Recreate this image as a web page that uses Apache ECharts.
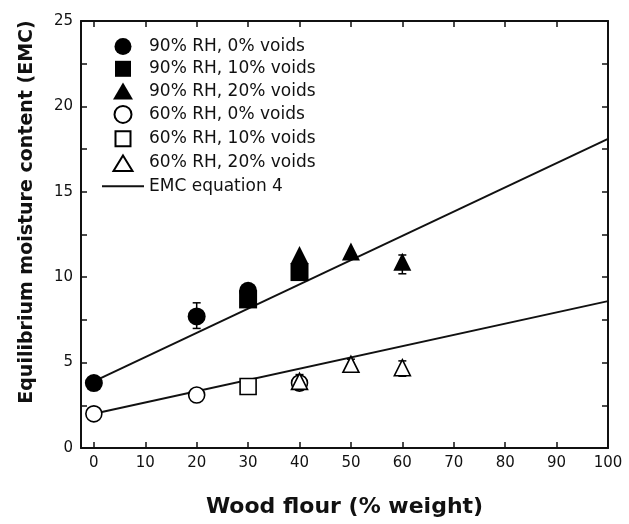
<!DOCTYPE html>
<html><head><meta charset="utf-8">
<script src="https://cdn.jsdelivr.net/npm/echarts@6/dist/echarts.min.js"></script>
<style>html,body{margin:0;padding:0;background:#fff}#c{width:629px;height:524px}</style>
</head><body><div id="c"></div>
<script>
// Data
var rh90v0 = [[0, 3.8], [20, 7.7], [30, 9.2]];
var rh90v10 = [[30, 8.7], [40, 10.3]];
var rh90v20 = [[40, 11.3], [50, 11.5], [60, 10.9]];
var rh60v0 = [[0, 2.0], [20, 3.1], [40, 3.8]];
var rh60v10 = [[30, 3.6]];
var rh60v20 = [[40, 3.9], [50, 4.9], [60, 4.7]];
var eqUpper = [[0, 3.9], [100, 18.1]];
var eqLower = [[0, 2.0], [100, 8.6]];
// error bars: [x, low, high]
var errBars = [[20, 7.0, 8.5], [30, 8.9, 9.5], [60, 10.2, 11.3], [40, 10.0, 10.6], [0, 1.7, 2.3], [20, 2.8, 3.4], [40, 3.4, 4.3], [50, 4.5, 5.2], [60, 4.2, 5.1]];
var xTicks = [0, 10, 20, 30, 40, 50, 60, 70, 80, 90, 100];
var names = ['90% RH, 0% voids', '90% RH, 10% voids', '90% RH, 20% voids', '60% RH, 0% voids', '60% RH, 10% voids', '60% RH, 20% voids', 'EMC equation 4'];
var yTitle = 'Equilibrium moisture content (EMC)';
var xTitle = 'Wood flour (% weight)';

var font = 'DejaVu Sans';
var chart = echarts.init(document.getElementById('c'));
var axisLineStyle = {color: '#111', width: 2};
var box = 'M0,0M42,17';
var icons = ['circle', 'path://' + box + 'M13,0.5L29,0.5L29,16.5L13,16.5Z', 'path://' + box + 'M21,0L31,17L11,17Z',
             'circle', 'path://' + box + 'M13.5,1L28.5,1L28.5,16L13.5,16Z', 'path://' + box + 'M21,1L30.5,16.5L11.5,16.5Z',
             'path://' + box + 'M0,7.5L42,7.5L42,9.5L0,9.5Z'];
function xAx(pos, show) {
  return {type: 'value', position: pos, min: -2.5, max: 100,
    axisLine: {show: true, onZero: false, lineStyle: axisLineStyle},
    axisTick: {show: true, inside: true, length: 6, customValues: xTicks, lineStyle: {color: '#111', width: 1.5}},
    axisLabel: {show: show, customValues: xTicks, color: '#111', fontFamily: font, fontSize: 15, margin: 8},
    splitLine: {show: false},
    name: show ? xTitle : '', nameLocation: 'middle', nameGap: 48,
    nameTextStyle: {fontFamily: font, fontWeight: 'bold', fontSize: 22, color: '#111'}};
}
function yAx(pos, show) {
  return {type: 'value', position: pos, min: 0, max: 25, interval: 5,
    axisLine: {show: true, onZero: false, lineStyle: axisLineStyle},
    axisTick: {show: true, inside: true, length: 6, lineStyle: {color: '#111', width: 1.5}},
    minorTick: {show: true, splitNumber: 2, length: 6, lineStyle: {color: '#111', width: 1.5}},
    axisLabel: {show: show, color: '#111', fontFamily: font, fontSize: 15, margin: 8},
    splitLine: {show: false}};
}
function scat(name, data, symbol, filled) {
  return {name: name, type: 'scatter', data: data, symbol: symbol, symbolSize: filled ? 18 : 16,
    itemStyle: filled ? {color: '#000', opacity: 1} : {color: '#fff', borderColor: '#000', borderWidth: 1.6, opacity: 1}, z: 5};
}
chart.setOption({
  animation: false,
  grid: {left: 81, right: 21, top: 21, bottom: 76},
  xAxis: [xAx('bottom', true), xAx('top', false)],
  yAxis: [yAx('left', true), yAx('right', false)],
  graphic: [{type: 'text', x: 27, y: 212, rotation: Math.PI / 2,
    style: {text: yTitle, fill: '#111', font: 'bold 19px "DejaVu Sans"', align: 'center', verticalAlign: 'middle'}}],
  legend: {orient: 'vertical', left: 96, top: 33, itemGap: 5.3, itemWidth: 42, itemHeight: 17,
    textStyle: {fontFamily: font, fontSize: 17, color: '#111'},
    data: names.map(function (n, i) { return {name: n, icon: icons[i]}; })},
  series: [
    {type: 'custom', data: errBars, z: 3, renderItem: function (params, api) {
      var x = api.value(0), lo = api.coord([x, api.value(1)]), hi = api.coord([x, api.value(2)]);
      return {type: 'group', children: [
        {type: 'line', shape: {x1: lo[0], y1: lo[1], x2: hi[0], y2: hi[1]}, style: {stroke: '#000', lineWidth: 1.5}},
        {type: 'line', shape: {x1: lo[0] - 4, y1: lo[1], x2: lo[0] + 4, y2: lo[1]}, style: {stroke: '#000', lineWidth: 1.5}},
        {type: 'line', shape: {x1: hi[0] - 4, y1: hi[1], x2: hi[0] + 4, y2: hi[1]}, style: {stroke: '#000', lineWidth: 1.5}}
      ]};
    }},
    {name: names[6], type: 'line', data: eqUpper, symbol: 'none', lineStyle: {color: '#111', width: 2}, itemStyle: {color: '#111'}, z: 2},
    {name: names[6], type: 'line', data: eqLower, symbol: 'none', lineStyle: {color: '#111', width: 2}, itemStyle: {color: '#111'}, z: 2},
    scat(names[0], rh90v0, 'circle', true),
    scat(names[1], rh90v10, 'rect', true),
    scat(names[2], rh90v20, 'triangle', true),
    scat(names[3], rh60v0, 'circle', false),
    scat(names[4], rh60v10, 'rect', false),
    scat(names[5], rh60v20, 'triangle', false)
  ]
});
</script></body></html>
